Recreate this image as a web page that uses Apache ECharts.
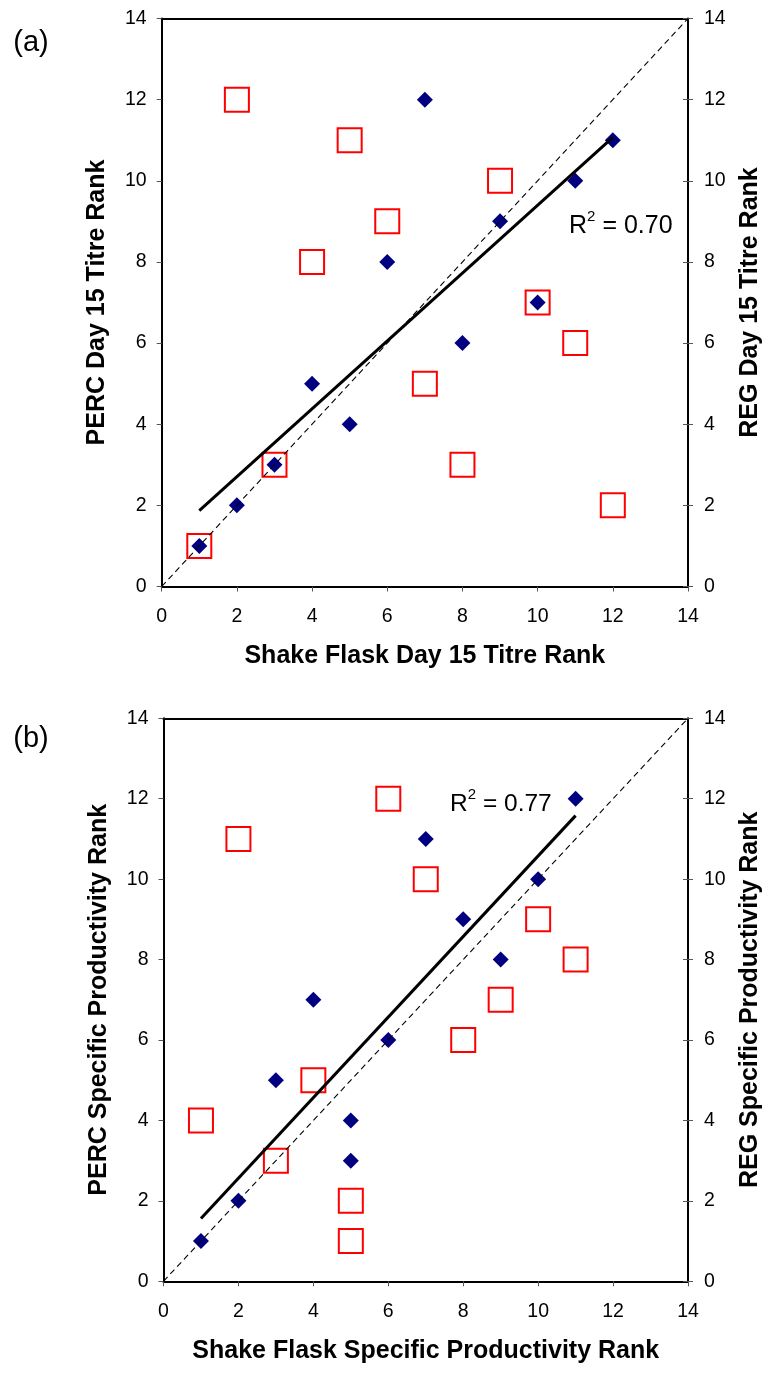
<!DOCTYPE html>
<html><head><meta charset="utf-8">
<script src="https://cdn.jsdelivr.net/npm/echarts@6/dist/echarts.min.js"></script>
<style>html,body{margin:0;padding:0;background:#fff}#c{width:771px;height:1374px}</style>
</head><body><div id="c"></div>
<script>
// ---- data ----
const axisTicks = [0, 2, 4, 6, 8, 10, 12, 14];

// panel (a): Day 15 titre rank
const rankA = [1, 2, 3, 4, 5, 6, 7, 8, 9, 10, 11, 12];
const percA = [1, 2, 3, 5, 4, 8, 12, 6, 9, 7, 10, 11];
const regA  = [1, 12, 3, 8, 11, 9, 5, 3, 10, 7, 6, 2];
const trendA = [[1, 1.87], [12, 11.07]];
const r2A = '0.70';

// panel (b): specific productivity rank
const rankB = [1, 2, 3, 4, 5, 5, 6, 7, 8, 9, 10, 11];
const percB = [1, 2, 5, 7, 4, 3, 6, 11, 9, 8, 10, 12];
const regB  = [4, 11, 3, 5, 2, 1, 12, 10, 6, 7, 9, 8];
const trendB = [[1, 1.56], [11, 11.58]];
const r2B = '0.77';

const unityLine = [[0, 0], [14, 14]];

const titlesA = { x: 'Shake Flask Day 15 Titre Rank', yl: 'PERC Day 15 Titre Rank', yr: 'REG Day 15 Titre Rank' };
const titlesB = { x: 'Shake Flask Specific Productivity Rank', yl: 'PERC Specific Productivity Rank', yr: 'REG Specific Productivity Rank' };

// ---- build ----
const FONT = '"Liberation Sans", Arial, sans-serif';
const AMIN = axisTicks[0], AMAX = axisTicks[axisTicks.length - 1], AINT = axisTicks[1] - axisTicks[0];
const lineBlack = { color: '#000', width: 2 };
const tickStyle = { color: '#555', width: 1 };
const labelBase = { color: '#000', fontSize: 19.5, fontFamily: FONT };
const nameBase = { color: '#000', fontSize: 25, fontWeight: 'bold', fontFamily: FONT };

const grids = [
  { left: 161.7, top: 18.5, width: 530.3, height: 568 },
  { left: 163.5, top: 718.3, width: 531, height: 563 }
];

const xAxes = [], yAxes = [], series = [];

function pairs(xs, ys) { return xs.map((x, i) => [x, ys[i]]); }

function addPanel(gi, titles, rank, perc, reg, trend) {
  const common = { type: 'value', gridIndex: gi, min: AMIN, max: AMAX, interval: AINT, splitLine: { show: false } };
  const xi = xAxes.length;
  xAxes.push(Object.assign({}, common, {
    position: 'bottom',
    axisLine: { show: true, onZero: false, lineStyle: lineBlack },
    axisTick: { show: true, inside: false, length: 5, lineStyle: tickStyle },
    axisLabel: Object.assign({ margin: 20 }, labelBase),
    name: titles.x, nameLocation: 'middle', nameGap: 57, nameTextStyle: nameBase
  }));
  xAxes.push(Object.assign({}, common, {
    position: 'top',
    axisLine: { show: true, onZero: false, lineStyle: lineBlack },
    axisTick: { show: false }, axisLabel: { show: false }
  }));
  const yi = yAxes.length;
  yAxes.push(Object.assign({}, common, {
    position: 'left',
    axisLine: { show: true, onZero: false, lineStyle: lineBlack },
    axisTick: { show: true, inside: false, length: 5, lineStyle: tickStyle },
    axisLabel: Object.assign({ margin: 15 }, labelBase),
    name: titles.yl, nameLocation: 'middle', nameGap: 52, nameTextStyle: nameBase
  }));
  yAxes.push(Object.assign({}, common, {
    position: 'right',
    axisLine: { show: true, onZero: false, lineStyle: lineBlack },
    axisTick: { show: true, inside: false, length: 5, lineStyle: tickStyle },
    axisLabel: Object.assign({ margin: 16 }, labelBase),
    name: titles.yr, nameLocation: 'middle', nameGap: 50, nameRotate: 90, nameTextStyle: nameBase
  }));
  yAxes.push(Object.assign({}, common, {
    position: 'right',
    axisLine: { show: false, onZero: false },
    axisTick: { show: true, inside: true, length: 5, lineStyle: tickStyle },
    axisLabel: { show: false }
  }));
  const base = { xAxisIndex: xi, yAxisIndex: yi, silent: true, animation: false };
  series.push(Object.assign({}, base, {
    type: 'scatter', name: 'REG', data: pairs(rank, reg), symbol: 'rect', symbolSize: 24,
    itemStyle: { color: 'rgba(0,0,0,0)', borderColor: '#ff0000', borderWidth: 2, opacity: 1 }, z: 2
  }));
  series.push(Object.assign({}, base, {
    type: 'scatter', name: 'PERC', data: pairs(rank, perc), symbol: 'diamond', symbolSize: 16,
    itemStyle: { color: '#000080', opacity: 1 }, z: 3
  }));
  series.push(Object.assign({}, base, {
    type: 'line', data: unityLine, showSymbol: false, symbol: 'none',
    lineStyle: { color: '#000', width: 1.1, type: [6, 4] }, z: 4
  }));
  series.push(Object.assign({}, base, {
    type: 'line', data: trend, showSymbol: false, symbol: 'none',
    lineStyle: { color: '#000', width: 3 }, z: 5
  }));
}

addPanel(0, titlesA, rankA, percA, regA, trendA);
addPanel(1, titlesB, rankB, percB, regB, trendB);

function txt(text, x, y, size, align) {
  return { type: 'text', x: x, y: y, silent: true,
    style: { text: text, fill: '#000', font: size + 'px ' + FONT, textAlign: align || 'left', textVerticalAlign: 'middle' } };
}
function r2(x, y, size, val) {
  const rW = 0.722 * size;
  return [
    txt('R', x, y, size),
    txt('2', x + rW, y - 9, 15),
    txt(' = ' + val, x + rW + 8.4, y, size)
  ];
}

const graphic = [
  txt('(a)', 31, 43, 29, 'center'),
  txt('(b)', 31, 739, 29, 'center')
].concat(r2(569, 226, 25, r2A)).concat(r2(450, 804, 24.5, r2B));

const chart = echarts.init(document.getElementById('c'), null, { renderer: 'canvas' });
chart.setOption({
  animation: false,
  backgroundColor: '#fff',
  grid: grids,
  xAxis: xAxes,
  yAxis: yAxes,
  series: series,
  graphic: graphic
});
</script></body></html>
